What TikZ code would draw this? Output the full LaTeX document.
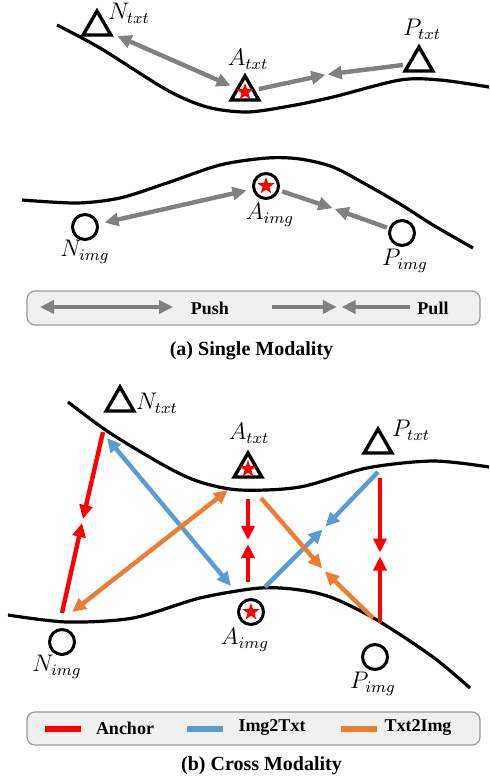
\documentclass[tikz,border=0pt]{standalone}
\usepackage{fontspec}
\setmainfont{Liberation Serif}
\usetikzlibrary{shapes,arrows.meta,positioning,calc}

\definecolor{img2txt}{RGB}{91,155,213}
\definecolor{txt2img}{RGB}{237,125,49}
\definecolor{legfill}{RGB}{240,240,240}

\tikzset{
  txt/.style={regular polygon,regular polygon sides=3,draw,line width=1.7pt,inner sep=0pt,minimum size=16pt},
  img/.style={circle,draw,line width=1.5pt,inner sep=0pt,minimum size=12.5pt},
  anchorstar/.style={star,star points=5,star point ratio=2.5,fill=red,inner sep=0pt,minimum size=9pt},
  lbl/.style={inner sep=0pt,font=\fontsize{12}{14}\selectfont},
  manifold/.style={line width=1.6pt},
  arr/.style={line width=2.2pt},
  push/.style={arr,gray,<->,shorten <=3pt,shorten >=3pt},
  pull/.style={arr,gray,->,shorten <=2pt,shorten >=0.6pt},
  legendbox/.style={draw=gray!80,fill=legfill,rounded corners=4pt,line width=0.6pt,minimum width=226.5pt},
  legtext/.style={font=\fontsize{9}{11}\selectfont\bfseries},
  swatch/.style={inner sep=0pt,minimum width=18pt,minimum height=2.6pt},
  caption/.style={font=\fontsize{10}{12}\selectfont\bfseries}
}

\begin{document}
\begin{tikzpicture}[x=0.5pt,y=-0.5pt,>={Triangle[length=7pt,width=6.5pt]}]
\useasboundingbox (0,0) rectangle (489,783);

% (a) single modality
\draw[manifold] plot[smooth] coordinates {(57,25) (100,48) (167,90) (207,107) (247,112) (290,106) (333,97) (400,80) (440,80) (489,87)};
\draw[manifold] plot[smooth] coordinates {(22,200) (77,203) (120,198) (167,183) (220,165) (267,158) (300,159) (333,167) (367,185) (400,204) (433,225) (473,248)};

\node[txt] (ntxt1) at (97,27) {};
\node[txt] (atxt1) at (245,92) {};
\node[anchorstar] (astar1) at (atxt1) {};
\node[txt] (ptxt1) at (419,63) {};
\node[img] (nimg1) at (85,227) {};
\node[img] (aimg1) at (266,186) {};
\node[anchorstar] (bstar1) at (aimg1) {};
\node[img] (pimg1) at (402,233) {};

\node[lbl] (ntxtl1) at (129,13) {$N_{txt}$};
\node[lbl] (atxtl1) at (248,59) {$A_{txt}$};
\node[lbl] (ptxtl1) at (422,29) {$P_{txt}$};
\node[lbl] (aimgl1) at (270,215) {$A_{img}$};
\node[lbl] (nimgl1) at (85,252) {$N_{img}$};
\node[lbl] (pimgl1) at (405,261) {$P_{img}$};

\coordinate (meet1) at (326.5,74.5);
\coordinate (meet2) at (333.5,208.5);
\draw[push] (ntxt1) -- (atxt1);
\draw[pull] (atxt1) -- (meet1);
\draw[pull] (ptxt1) -- (meet1);
\draw[push] (nimg1) -- (aimg1);
\draw[pull,shorten <=1.5pt] (aimg1) -- (meet2);
\draw[pull,shorten <=1pt] (pimg1) -- (meet2);

\node[legendbox,minimum height=17pt] (lega) at (253.5,308) {};
\coordinate (pushl) at (40,307);
\coordinate (pushr) at (173,307);
\coordinate (pulla) at (272,307);
\coordinate (pullb) at (410,307);
\coordinate (pullm) at (339.2,307);
\draw[arr,gray,<->] (pushl) -- (pushr);
\draw[arr,gray,->,shorten >=1.2pt] (pulla) -- (pullm);
\draw[arr,gray,->,shorten >=1.2pt] (pullb) -- (pullm);
\node[legtext] (pushtext) at (210,308) {Push};
\node[legtext] (pulltext) at (433,308) {Pull};
\node[caption] (capa) at (251.5,351) {(a) Single Modality};

% (b) cross modality
\draw[manifold] plot[smooth] coordinates {(68,402) (110,433) (167,467) (200,482) (240,490) (300,487) (367,468) (433,461) (489,467)};
\draw[manifold] plot[smooth] coordinates {(8,615) (67,622) (133,618) (200,598) (260,588) (300,590) (333,598) (377,620) (433,657) (470,688)};

\node[txt] (ntxt2) at (120,403) {};
\node[txt] (atxt2) at (248,469) {};
\node[anchorstar] (astar2) at (atxt2) {};
\node[txt] (ptxt2) at (378,445) {};
\node[img] (nimg2) at (62,642) {};
\node[img] (aimg2) at (251,612) {};
\node[anchorstar] (bstar2) at (aimg2) {};
\node[img] (pimg2) at (375,657) {};

\node[lbl] (ntxtl2) at (157,403) {$N_{txt}$};
\node[lbl] (atxtl2) at (249,433) {$A_{txt}$};
\node[lbl] (ptxtl2) at (411,430) {$P_{txt}$};
\node[lbl] (nimgl2) at (57,667) {$N_{img}$};
\node[lbl] (aimgl2) at (245,640) {$A_{img}$};
\node[lbl] (pimgl2) at (373,684) {$P_{img}$};

% points on the two curves
\coordinate (c1) at (103,432);
\coordinate (c2) at (62,613);
\coordinate (c3) at (248,499);
\coordinate (c4) at (248,582);
\coordinate (c5) at (380,478);
\coordinate (c6) at (380,623);
\coordinate (c7) at (107,438);
\coordinate (c8) at (231,586);
\coordinate (c9) at (265,587);
\coordinate (c10) at (378,472);
\coordinate (c11) at (72,612);
\coordinate (c12) at (228,490);
\coordinate (c13) at (261,498);
\coordinate (c14) at (373,618);
\coordinate (r1) at (82.5,521);
\coordinate (r2) at (248,542);
\coordinate (r3) at (380,554.5);
\coordinate (b1) at (324,528);
\coordinate (o1) at (323.5,570);

\draw[arr,red,->,shorten >=1pt] (c1) -- (r1);
\draw[arr,red,->,shorten >=1pt] (c2) -- (r1);
\draw[arr,red,->,shorten >=1pt] (c3) -- (r2);
\draw[arr,red,->,shorten >=1pt] (c4) -- (r2);
\draw[arr,red,->,shorten >=1pt] (c5) -- (r3);
\draw[arr,red,->,shorten >=1pt] (c6) -- (r3);
\draw[arr,img2txt,<->] (c7) -- (c8);
\draw[arr,img2txt,->,shorten >=1pt] (c9) -- (b1);
\draw[arr,img2txt,->,shorten >=1pt] (c10) -- (b1);
\draw[arr,txt2img,<->] (c11) -- (c12);
\draw[arr,txt2img,->,shorten >=1pt] (c13) -- (o1);
\draw[arr,txt2img,->,shorten >=1pt] (c14) -- (o1);

\node[legendbox,minimum height=16.5pt] (legb) at (253.5,728.5) {};
\node[swatch,fill=red] (swa) at (63,729) {};
\node[legtext] (anctext) at (125,728) {Anchor};
\node[swatch,fill=img2txt] (swb) at (205,729) {};
\node[legtext] (i2ttext) at (272,728) {Img2Txt};
\node[swatch,fill=txt2img] (swc) at (359,729) {};
\node[legtext] (t2itext) at (418,728) {Txt2Img};
\node[caption] (capb) at (261.5,766) {(b) Cross Modality};
\end{tikzpicture}
\end{document}
